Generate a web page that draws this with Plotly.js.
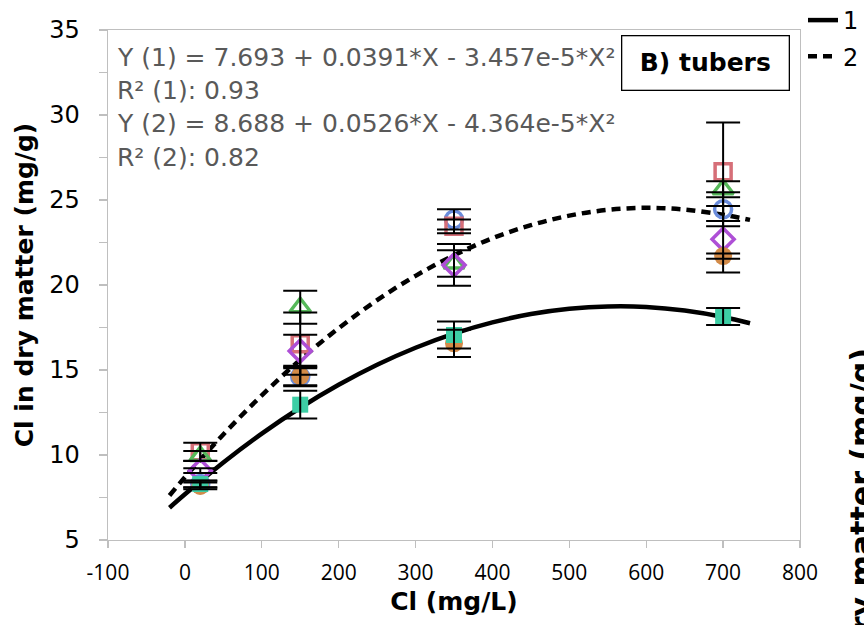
<!DOCTYPE html>
<html>
<head>
<meta charset="utf-8">
<script src="https://cdn.plot.ly/plotly-3.0.1.min.js"></script>
<style>html,body{margin:0;padding:0;background:#fff;}#chart{width:864px;height:625px;}</style>
</head>
<body>
<div id="chart"></div>
<script>
// Cl concentration in irrigation water (mg/L)
const xCl = [20, 150, 350, 700];

// Series values (Cl in dry matter, mg/g) and error bar half-lengths
const openCircle   = [8.30, 14.60, 23.86, 24.45];
const openCircleErr = [0.20, 0.50, 0.60, 1.00];
const openSquare   = [10.19, 16.55, 23.45, 26.66];
const openSquareErr = [0.53, 1.83, 0.40, 2.90];
const openTriangle = [9.94, 18.69, 21.27, 25.63];
const openTriangleErr = [0.30, 0.97, 0.78, 0.47];
const openDiamond  = [9.08, 16.12, 21.18, 22.69];
const openDiamondErr = [0.14, 0.95, 1.23, 1.96];
const filledCircle = [8.18, 14.65, 16.57, 21.70];
const filledCircleErr = [0.20, 0.60, 0.80, 0.16];
const filledSquare = [8.29, 12.96, 17.06, 18.14];
const filledSquareErr = [0.20, 0.82, 0.80, 0.50];

// Fitted curves
const curveX  = [-20, 0, 50, 100, 150, 200, 250, 300, 350, 400, 450, 500, 550, 600, 650, 700, 735];
const curve1Y = [6.90, 7.69, 9.56, 11.26, 12.78, 14.13, 15.31, 16.31, 17.14, 17.80, 18.29, 18.60, 18.74, 18.71, 18.50, 18.12, 17.75];
const curve2Y = [7.62, 8.69, 11.21, 13.51, 15.60, 17.46, 19.11, 20.54, 21.75, 22.75, 23.52, 24.08, 24.42, 24.54, 24.44, 24.13, 23.83];
const curveNames = ['1', '2'];

// Tick labels
const xTickVals = [-100, 0, 100, 200, 300, 400, 500, 600, 700, 800];
const xTickText = ['-100', '0', '100', '200', '300', '400', '500', '600', '700', '800'];
const yTickVals = [5, 10, 15, 20, 25, 30, 35];
const yTickText = ['5', '10', '15', '20', '25', '30', '35'];

// Text
const eqLines = [
  'Y (1) = 7.693 + 0.0391*X - 3.457e-5*X²',
  'R² (1): 0.93',
  'Y (2) = 8.688 + 0.0526*X - 4.364e-5*X²',
  'R² (2): 0.82'
];
const panelLabel = 'B) tubers';
const xTitle = 'Cl (mg/L)';
const yTitle = 'Cl in dry matter (mg/g)';

const FONT = 'DejaVu Sans';

function mk(y, symbol, color, filled, size) {
  return {
    x: xCl, y: y, type: 'scatter', mode: 'markers', showlegend: false, hoverinfo: 'x+y',
    marker: {
      symbol: symbol, size: size, color: color,
      line: {color: color, width: filled ? 0 : 3.5}
    }
  };
}
function eb(y, err) {
  return {
    x: xCl, y: y, type: 'scatter', mode: 'markers', showlegend: false, hoverinfo: 'skip',
    marker: {size: 1, color: 'rgba(0,0,0,0)'},
    error_y: {type: 'data', array: err, visible: true, color: '#000', thickness: 2, width: 17}
  };
}

const traces = [
  {x: curveX, y: curve1Y, type: 'scatter', mode: 'lines', name: curveNames[0], legendgroup: 'a',
   line: {color: '#000', width: 4.5, shape: 'spline'}},
  {x: curveX, y: curve2Y, type: 'scatter', mode: 'lines', name: curveNames[1], legendgroup: 'b',
   line: {color: '#000', width: 4.5, shape: 'spline', dash: '9px,6px'}},
  mk(openCircle, 'circle-open', '#6a8cdc', false, 17),
  mk(openSquare, 'square-open', '#d66f78', false, 16),
  mk(openTriangle, 'triangle-up-open', '#56b95a', false, 18),
  mk(openDiamond, 'diamond-open', '#ae4fd6', false, 17),
  mk(filledCircle, 'circle', '#d38b48', true, 18),
  mk(filledSquare, 'square', '#3dcea5', true, 16),
  eb(openCircle, openCircleErr),
  eb(openSquare, openSquareErr),
  eb(openTriangle, openTriangleErr),
  eb(openDiamond, openDiamondErr),
  eb(filledCircle, filledCircleErr),
  eb(filledSquare, filledSquareErr)
];

const L = 108, R = 800, T = 30, B = 540;
const px2x = p => (p - L) / (R - L);
const px2y = p => (B - p) / (B - T);

const annotations = eqLines.map((t, i) => ({
  text: t, xref: 'paper', yref: 'paper', x: px2x(115), y: px2y([57, 90, 123, 157][i]),
  xanchor: 'left', yanchor: 'middle', showarrow: false,
  font: {family: FONT, size: 25, color: '#595959'}
}));
annotations.push({
  text: '<b>' + panelLabel + '</b>', xref: 'paper', yref: 'paper',
  x: px2x(705), y: px2y(63.5), xanchor: 'center', yanchor: 'middle', showarrow: false,
  width: 166, height: 53, borderpad: 0, bordercolor: '#000', borderwidth: 1.3, bgcolor: '#fff',
  font: {family: FONT, size: 25, color: '#000'}
});
// neighbouring panel's axis title, cut by the right edge of the picture
annotations.push({
  text: '<b>' + yTitle + '</b>', xref: 'paper', yref: 'paper',
  x: px2x(861), y: px2y(347), xanchor: 'center', yanchor: 'top', textangle: -90, showarrow: false,
  font: {family: FONT, size: 30, color: '#000'}
});

const layout = {
  width: 864, height: 625,
  margin: {l: L, r: 864 - R, t: T, b: 625 - B, pad: 0, autoexpand: false},
  paper_bgcolor: '#fff', plot_bgcolor: '#fff',
  showlegend: true,
  legend: {
    x: px2x(803), y: px2y(-2), xanchor: 'left', yanchor: 'top',
    bgcolor: 'rgba(0,0,0,0)', borderwidth: 0, tracegroupgap: 2,
    font: {family: FONT, size: 24, color: '#000'}
  },
  xaxis: {
    range: [-100, 800], tickmode: 'array', tickvals: xTickVals, ticktext: xTickText,
    showgrid: false, zeroline: false, showline: true, linecolor: '#bfbfbf', linewidth: 1.3, mirror: true,
    ticks: 'outside', ticklen: 7, tickcolor: '#bfbfbf', tickwidth: 1.3,
    tickfont: {family: 'Open Sans', size: 21, color: '#000'}, ticklabelstandoff: 6,
    title: {text: '<b>' + xTitle + '</b>', font: {family: FONT, size: 25, color: '#000'}, standoff: 8},
    automargin: false
  },
  yaxis: {
    range: [5, 35], tickmode: 'array', tickvals: yTickVals, ticktext: yTickText,
    showgrid: false, zeroline: false, showline: true, linecolor: '#bfbfbf', linewidth: 1.3, mirror: true,
    ticks: 'outside', ticklen: 8, tickcolor: '#bfbfbf', tickwidth: 1.3,
    minor: {tickmode: 'linear', tick0: 5, dtick: 2.5, ticks: 'outside', ticklen: 8, tickcolor: '#bfbfbf', tickwidth: 1.3, showgrid: false},
    tickfont: {family: FONT, size: 24, color: '#000'}, ticklabelstandoff: 14,
    title: {text: '<b>' + yTitle + '</b>', font: {family: FONT, size: 25, color: '#000'}, standoff: 8},
    automargin: false
  },
  annotations: annotations
};

Plotly.newPlot('chart', traces, layout, {staticPlot: true, displayModeBar: false});
</script>
</body>
</html>
